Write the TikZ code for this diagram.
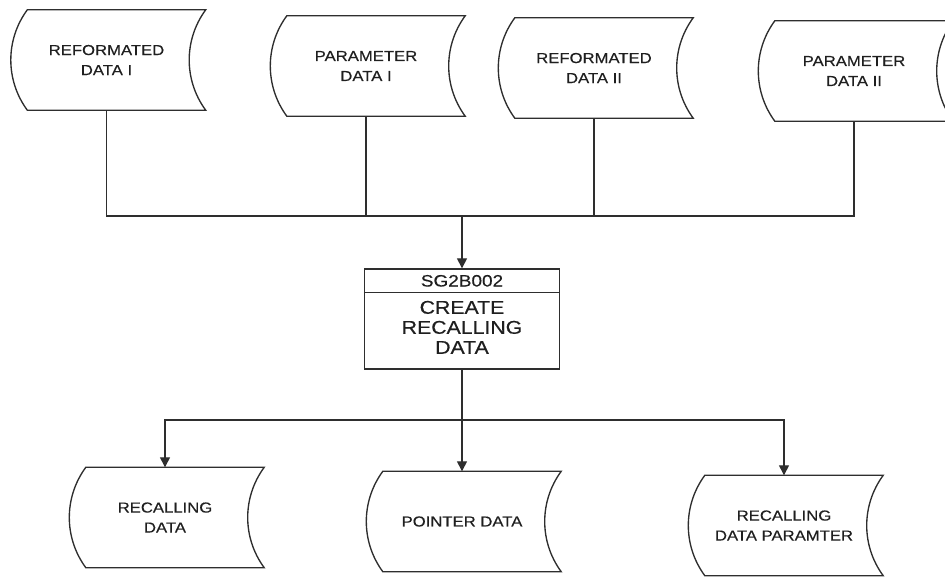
\documentclass[tikz,border=0pt]{standalone}
\usepackage{fontspec}
\newfontfamily\boxfont[FakeStretch=1.15,FakeBold=0.4]{Liberation Sans}
\usetikzlibrary{arrows.meta,calc}

\tikzset{
  x=1pt, y=1pt,
  wire/.style={draw=black!82, line width=1.35pt},
  feed/.style={wire, -{Triangle[width=10pt,length=10pt]}},
  datafile/.style={minimum width=178pt, minimum height=100pt, inner sep=0pt,
    align=center, text=black!88,
    font={\boxfont\fontsize{14.5pt}{20pt}\selectfont}},
  procbox/.style={wire, minimum width=195pt, minimum height=100pt, inner sep=0pt},
  proctitle/.style={inner sep=0pt, text=black!88,
    font={\boxfont\fontsize{16.5pt}{20pt}\selectfont}},
  procbody/.style={inner sep=0pt, align=center, text=black!88,
    font={\boxfont\fontsize{18.5pt}{20pt}\selectfont}},
}

% stored-data outline: both vertical sides curve to the left
\newcommand\fileoutline[1]{%
  \draw[wire] ([xshift=10pt]#1.north west) -- ([xshift=10pt]#1.north east)
    .. controls +(-22pt,-30pt) and +(-22pt,30pt) .. ([xshift=10pt]#1.south east)
    -- ([xshift=10pt]#1.south west)
    .. controls +(-22pt,30pt) and +(-22pt,-30pt) .. ([xshift=10pt]#1.north west)
    -- cycle;}

\begin{document}
\begin{tikzpicture}
\useasboundingbox (0,0) rectangle (945,-577);
\clip (0,0) rectangle (945,-577);

% input files
\node[datafile] (ref1) at (106.5,-60) {REFORMATED\\DATA I};
\node[datafile] (par1) at (366,-66)   {PARAMETER\\DATA I};
\node[datafile] (ref2) at (594,-68)   {REFORMATED\\DATA II};
\node[datafile] (par2) at (854,-71)   {PARAMETER\\DATA II};
\foreach \n in {ref1,par1,ref2,par2} {\fileoutline{\n}}

% process
\node[procbox, draw] (proc) at (462,-319) {};
\draw[wire] ($(proc.north west)+(0,-24.5)$) coordinate (divl) -- (divl -| proc.east);
\node[proctitle] (procid) at ($(proc.north)+(0,-12.5)$) {SG2B002};
\node[procbody] (proctext) at ($(proc.north)+(0,-59)$) {CREATE\\RECALLING\\DATA};

% output files
\node[datafile] (recd) at (165,-517.5) {RECALLING\\DATA};
\node[datafile] (ptrd) at (462,-521.5) {POINTER DATA};
\node[datafile] (recp) at (784,-525.5) {RECALLING\\DATA PARAMTER};
\foreach \n in {recd,ptrd,recp} {\fileoutline{\n}}

% input bus
\coordinate (jt) at (proc.north |- 0,-216);
\draw[wire] (ref1.south) |- (jt) -| (par2.south);
\draw[wire] (par1.south) -- (par1.south |- jt);
\draw[wire] (ref2.south) -- (ref2.south |- jt);
\draw[feed] (jt) -- (proc.north);

% output bus
\coordinate (jb) at (proc.south |- 0,-420);
\draw[wire] (proc.south) -- (jb);
\draw[feed] (jb) -| (recd.north);
\draw[feed] (jb) -- (ptrd.north);
\draw[feed] (jb) -| (recp.north);
\end{tikzpicture}
\end{document}
